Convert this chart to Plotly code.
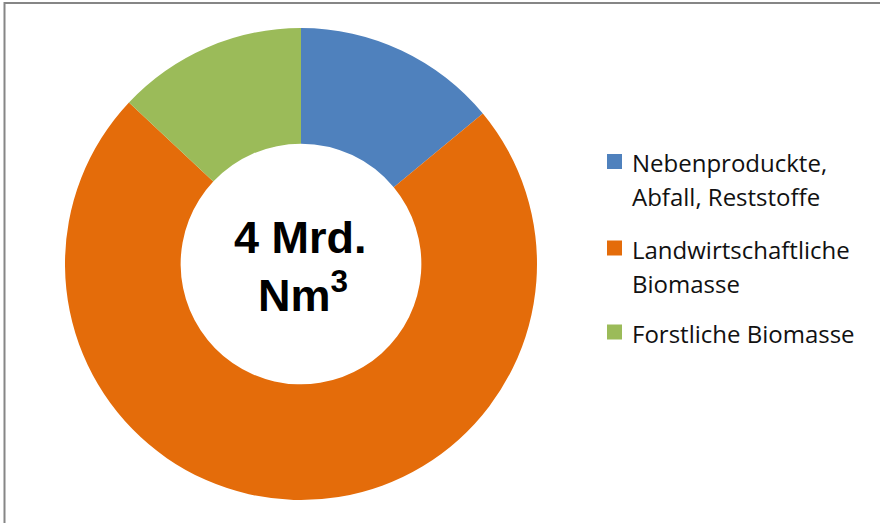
import plotly.graph_objects as go

labels = ["Nebenproduckte, Abfall, Reststoffe", "Landwirtschaftliche Biomasse", "Forstliche Biomasse"]
legend_lines = [["Nebenproduckte,", "Abfall, Reststoffe"], ["Landwirtschaftliche", "Biomasse"], ["Forstliche Biomasse"]]
values = [14, 73, 13]
colors = ["#4F81BD", "#E46C0A", "#9BBB59"]
center_lines = ["<b>4 Mrd.</b>", "<b>Nm<sup>3</sup></b>"]

W, H = 880, 523
cx, cy, r = 301, 264, 236


def px(x):
    return x / W


def py(y):
    return 1 - y / H


fig = go.Figure(go.Pie(
    labels=labels, values=values, hole=0.51, sort=False, direction="clockwise",
    rotation=0, textinfo="none", hoverinfo="label+percent", showlegend=False,
    marker=dict(colors=colors, line=dict(width=0)),
    domain=dict(x=[px(cx - r), px(cx + r)], y=[py(cy + r), py(cy - r)]),
))

# centre label
center_y = [238, 291.5]
center_x = [300.5, 303]
for t, xx, yy in zip(center_lines, center_x, center_y):
    fig.add_annotation(text=t, x=px(xx), y=py(yy), xref="paper", yref="paper",
                       showarrow=False, font=dict(family="Arial, Liberation Sans", size=45, color="#000000"),
                       xanchor="center", yanchor="middle")

# legend (drawn manually to match spacing)
f = 24
item_top = [161.5, 248, 332]
line_gap = 34
for lines, col, yc in zip(legend_lines, colors, item_top):
    fig.add_shape(type="rect", xref="paper", yref="paper",
                  x0=px(607), x1=px(622), y0=py(yc + 7.5), y1=py(yc - 7.5),
                  fillcolor=col, line=dict(width=0))
    for i, ln in enumerate(lines):
        fig.add_annotation(text=ln, x=px(630), y=py(yc + 1 + i * line_gap), xref="paper", yref="paper",
                           showarrow=False, xanchor="left", yanchor="middle",
                           font=dict(family="Open Sans", size=f, color="#111111"))

fig.add_shape(type="rect", xref="paper", yref="paper", x0=px(4.5), x1=1.05, y0=-0.05, y1=py(3),
              line=dict(color="#868686", width=2))

fig.update_layout(
    width=W, height=H, margin=dict(l=0, r=0, t=0, b=0),
    paper_bgcolor="white", plot_bgcolor="white",
)

fig.write_html("out.html", post_script="document.body.style.margin='0';",
               config={"displayModeBar": False})
